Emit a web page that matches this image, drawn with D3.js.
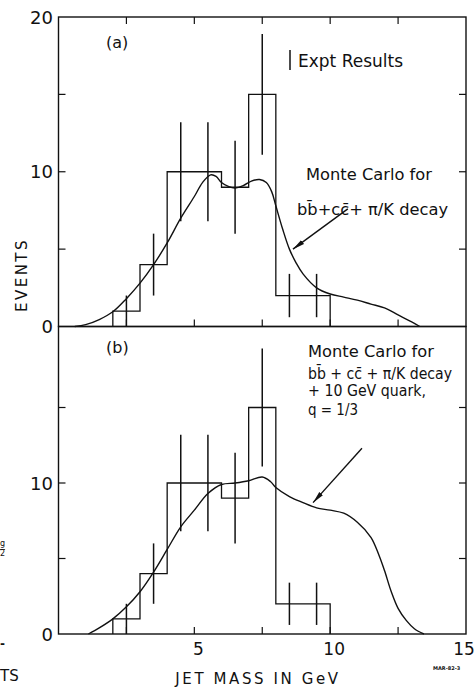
<!DOCTYPE html>
<html>
<head>
<meta charset="utf-8">
<script src="https://cdn.jsdelivr.net/npm/d3@7"></script>
<style>
  body { margin: 0; background: #fff; }
  text { font-family: "DejaVu Sans", "Liberation Sans", sans-serif; fill: #111; }
</style>
</head>
<body>
<div class="chart"></div>
<script>
// histogram bins (1 GeV wide), same experimental data in both panels
const binLo = [2, 3, 4, 5, 6, 7, 8, 9];
const counts = [1, 4, 10, 10, 9, 15, 2, 2];
const errors = [1, 2, 3.2, 3.2, 3, 3.9, 1.4, 1.4];

// Monte Carlo curves [mass, events]
const mcA = [[0.6,0],[1,0.12],[1.5,0.45],[2,0.95],[2.5,1.8],[3,2.8],[3.5,4.0],[4,5.4],[4.5,7.0],[5,8.4],
  [5.3,9.3],[5.6,9.8],[5.8,9.7],[6.0,9.3],[6.25,9.05],[6.5,8.95],[6.8,9.1],[7.1,9.4],[7.4,9.5],[7.65,9.3],
  [7.85,8.7],[8.0,7.8],[8.25,6.3],[8.5,5.0],[8.75,4.1],[9,3.4],[9.5,2.5],[10,2.1],[10.5,1.9],[11,1.7],
  [11.5,1.45],[12,1.2],[12.5,0.75],[13,0.3],[13.3,0]];
const mcB = [[1.1,0],[1.5,0.4],[2,1.0],[2.5,1.8],[3,2.8],[3.5,4.1],[4,5.6],[4.5,7.1],[5,8.2],[5.5,9.3],
  [6,9.9],[6.5,10.0],[7,10.15],[7.5,10.4],[7.8,10.1],[8,9.7],[8.5,9.1],[9,8.7],[9.5,8.35],[10,8.2],
  [10.5,8.0],[11,7.4],[11.5,6.4],[11.8,5.2],[12,4.2],[12.25,2.8],[12.5,1.7],[12.8,0.9],[13.1,0.35],[13.45,0]];

const xTicks = [2.5, 5, 7.5, 10, 12.5];
const xLabels = [5, 10, 15];
const yTicks = [5, 10, 15];
const yLabelsA = [0, 10, 20];
const yLabelsB = [0, 10];

// arrows [from, to] in data coords
const arrowA = [[10.65, 7.6], [8.63, 5.0]];
const arrowB = [[11.17, 12.3], [9.37, 8.7]];

const width = 475, height = 687;

const svg = d3.select(".chart").append("svg")
    .attr("width", width)
    .attr("height", height);

svg.append("defs").append("marker")
    .attr("id", "head")
    .attr("viewBox", "0 0 12 6")
    .attr("refX", 12).attr("refY", 3)
    .attr("markerWidth", 12).attr("markerHeight", 6)
    .attr("markerUnits", "userSpaceOnUse")
    .attr("orient", "auto")
  .append("path")
    .attr("d", "M0,0.6 L12,3 L0,5.4 Z")
    .attr("fill", "#111");

const x = d3.scaleLinear().domain([0, 15]).range([58.5, 466]);
const yA = d3.scaleLinear().domain([0, 20]).range([326.5, 17]);
const yB = d3.scaleLinear().domain([0, 20]).range([634, 332]);

const ink = "#111";
const tickLen = 7;

function panel(y, top, curve, arrow) {
    const g = svg.append("g");
    const left = x(0), right = x(15), bottom = y(0);

    // frame
    g.append("rect")
        .attr("x", left).attr("y", top)
        .attr("width", right - left).attr("height", bottom - top)
        .attr("fill", "none").attr("stroke", ink).attr("stroke-width", 1.4);

    // ticks (inward)
    g.selectAll(".tb").data(xTicks).enter().append("line")
        .attr("x1", d => x(d)).attr("x2", d => x(d))
        .attr("y1", bottom).attr("y2", bottom - tickLen)
        .attr("stroke", ink).attr("stroke-width", 1.2);
    g.selectAll(".yl").data(yTicks).enter().append("line")
        .attr("x1", left).attr("x2", left + tickLen)
        .attr("y1", d => y(d)).attr("y2", d => y(d))
        .attr("stroke", ink).attr("stroke-width", 1.2);
    g.selectAll(".yr").data(yTicks).enter().append("line")
        .attr("x1", right).attr("x2", right - tickLen)
        .attr("y1", d => y(d)).attr("y2", d => y(d))
        .attr("stroke", ink).attr("stroke-width", 1.2);

    // histogram
    let pts = [[binLo[0], 0]];
    binLo.forEach((lo, i) => { pts.push([lo, counts[i]], [lo + 1, counts[i]]); });
    pts.push([binLo[binLo.length - 1] + 1, 0]);
    g.append("path")
        .attr("d", d3.line().x(d => x(d[0])).y(d => y(d[1]))(pts))
        .attr("fill", "none").attr("stroke", ink).attr("stroke-width", 1.3);

    // error bars
    g.selectAll(".err").data(binLo).enter().append("line")
        .attr("x1", d => x(d + 0.5)).attr("x2", d => x(d + 0.5))
        .attr("y1", (d, i) => y(Math.max(0, counts[i] - errors[i])))
        .attr("y2", (d, i) => y(counts[i] + errors[i]))
        .attr("stroke", ink).attr("stroke-width", 1.5);

    // monte carlo curve
    g.append("path")
        .attr("d", d3.line().curve(d3.curveCatmullRom).x(d => x(d[0])).y(d => y(d[1]))(curve))
        .attr("fill", "none").attr("stroke", ink).attr("stroke-width", 1.4);

    // arrow
    g.append("line")
        .attr("x1", x(arrow[0][0])).attr("y1", y(arrow[0][1]))
        .attr("x2", x(arrow[1][0])).attr("y2", y(arrow[1][1]))
        .attr("stroke", ink).attr("stroke-width", 1.4)
        .attr("marker-end", "url(#head)");
    return g;
}

const gA = panel(yA, yA(20), mcA, arrowA);
const gB = panel(yB, yA(0), mcB, arrowB);

// top ticks of panel (a)
gA.selectAll(".tt").data(xTicks).enter().append("line")
    .attr("x1", d => x(d)).attr("x2", d => x(d))
    .attr("y1", yA(20)).attr("y2", yA(20) + tickLen)
    .attr("stroke", ink).attr("stroke-width", 1.2);

// y labels
svg.selectAll(".la").data(yLabelsA).enter().append("text")
    .attr("x", 53).attr("y", d => yA(d) + 6.5)
    .attr("text-anchor", "end").attr("font-size", 18)
    .text(d => d);
svg.selectAll(".lb").data(yLabelsB).enter().append("text")
    .attr("x", 53).attr("y", d => yB(d) + 6.5)
    .attr("text-anchor", "end").attr("font-size", 18)
    .text(d => d);

// x labels
svg.selectAll(".lx").data(xLabels).enter().append("text")
    .attr("x", d => Math.min(x(d) + 4, 464)).attr("y", 655)
    .attr("text-anchor", "middle").attr("font-size", 17)
    .text(d => d);

svg.append("text")
    .attr("x", 258).attr("y", 684)
    .attr("text-anchor", "middle").attr("font-size", 15)
    .attr("letter-spacing", 2.6)
    .text("JET MASS IN GeV");

svg.append("text")
    .attr("transform", "translate(27,275) rotate(-90)")
    .attr("text-anchor", "middle").attr("font-size", 15)
    .attr("letter-spacing", 2.5)
    .text("EVENTS");

// panel labels
svg.append("text").attr("x", 106).attr("y", 48).attr("font-size", 16).text("(a)");
svg.append("text").attr("x", 106).attr("y", 353).attr("font-size", 16).text("(b)");

// legend (a)
svg.append("line")
    .attr("x1", 290).attr("x2", 290).attr("y1", 50).attr("y2", 70)
    .attr("stroke", ink).attr("stroke-width", 1.5);
svg.append("text").attr("x", 298).attr("y", 67).attr("font-size", 17).text("Expt Results");

svg.append("text").attr("x", 306).attr("y", 180).attr("font-size", 16.3).text("Monte Carlo for");
svg.append("text").attr("x", 297).attr("y", 215).attr("font-size", 16.3)
    .text("bb\u0304+cc\u0304+ \u03c0/K decay");

// legend (b)
const legB = ["Monte Carlo for", "bb\u0304 + cc\u0304 + \u03c0/K decay", "+ 10 GeV quark,", "q = 1/3"];
const legBy = [357, 379, 396, 415];
const legBw = [126, 144, 118, 50];
svg.selectAll(".lg").data(legB).enter().append("text")
    .attr("x", 308)
    .attr("y", (d, i) => legBy[i])
    .attr("font-size", 15)
    .attr("textLength", (d, i) => legBw[i])
    .attr("lengthAdjust", "spacingAndGlyphs")
    .text(d => d);

// catalogue number and clipped neighbour text
svg.append("text").attr("x", 433).attr("y", 670)
    .attr("font-size", 5).attr("font-weight", "bold").text("MAR-82-3");
svg.append("text").attr("x", 0).attr("y", 681).attr("font-size", 15).text("TS");
svg.append("text").attr("x", 0).attr("y", 648).attr("font-size", 12).attr("font-weight", "bold").text("-");
svg.append("text").attr("x", 0).attr("y", 546).attr("font-size", 8).text("g");
svg.append("text").attr("x", 0).attr("y", 556).attr("font-size", 8)
    .attr("text-decoration", "overline").text("2");
</script>
</body>
</html>
